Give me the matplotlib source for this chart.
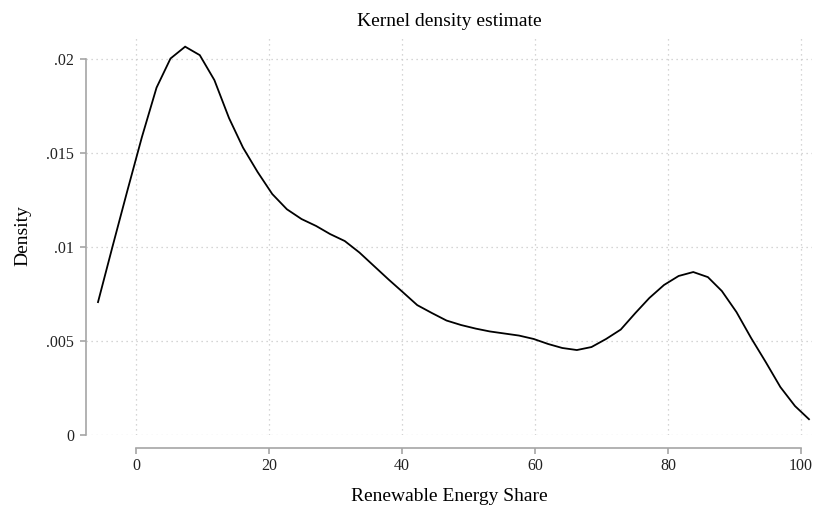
import matplotlib
matplotlib.use("Agg")
import matplotlib.pyplot as plt

# kernel density estimate of the renewable energy share
share = [-5.7, -3.5, -1.3, 0.9, 3.1, 5.2, 7.4, 9.6, 11.8, 14.0,
         16.1, 18.3, 20.5, 22.7, 24.9, 27.1, 29.2, 31.4, 33.6, 35.8,
         38.0, 40.1, 42.3, 44.5, 46.7, 48.9, 51.1, 53.2, 55.4, 57.6,
         59.8, 62.0, 64.1, 66.3, 68.5, 70.7, 72.9, 75.1, 77.2, 79.4,
         81.6, 83.8, 86.0, 88.1, 90.3, 92.5, 94.7, 96.9, 99.1, 101.2]
density = [.00707, .01005, .01298, .01585, .01848, .02003, .02066, .02021, .01888, .01686,
           .01529, .01399, .01282, .01201, .01149, .01112, .01069, .01032, .00971, .00899,
           .00827, .00761, .00691, .00649, .00609, .00585, .00566, .00551, .00540, .00529,
           .00511, .00484, .00463, .00452, .00468, .00511, .00561, .00649, .00729, .00798,
           .00846, .00867, .00840, .00766, .00654, .00516, .00388, .00255, .00154, .00084]

x_ticks = [0, 20, 40, 60, 80, 100]
y_ticks = [0, .005, .01, .015, .02]
y_tick_labels = ["0", ".005", ".01", ".015", ".02"]

plt.rcParams["font.family"] = ["Liberation Serif", "DejaVu Serif"]
AXIS_GREY = "#a6a6a6"

fig = plt.figure(figsize=(8.14, 5.08), dpi=100)
ax = fig.add_axes([0.1057, 0.1437, 0.8918, 0.7833])

ax.plot(share, density, color="black", lw=1.3, solid_joinstyle="miter")

ax.set_xlim(-7.5, 101.65)
ax.set_ylim(0, 0.02117)

ax.set_xticks(x_ticks)
ax.set_yticks(y_ticks)
ax.set_yticklabels(y_tick_labels)
ax.grid(True, linestyle=(0, (1, 3)), color="#c8c8c8", lw=0.9)
ax.set_axisbelow(True)

for side in ("top", "right"):
    ax.spines[side].set_visible(False)
ax.spines["bottom"].set_position(("outward", 9))
ax.spines["bottom"].set_bounds(0, 100)
ax.spines["left"].set_bounds(0, 0.02)
for side in ("bottom", "left"):
    ax.spines[side].set_color(AXIS_GREY)
    ax.spines[side].set_linewidth(1.2)
ax.tick_params(colors=AXIS_GREY, labelcolor="#222222", length=4.5, width=1.2,
               labelsize=11.5, pad=4)
ax.tick_params(axis="x", pad=3)

ax.set_xlabel("Renewable Energy Share", fontsize=14, labelpad=10)
ax.set_ylabel("Density", fontsize=14, labelpad=11)
ax.set_title("Kernel density estimate", fontsize=14, pad=8)

fig.savefig("out.png", dpi=100)
